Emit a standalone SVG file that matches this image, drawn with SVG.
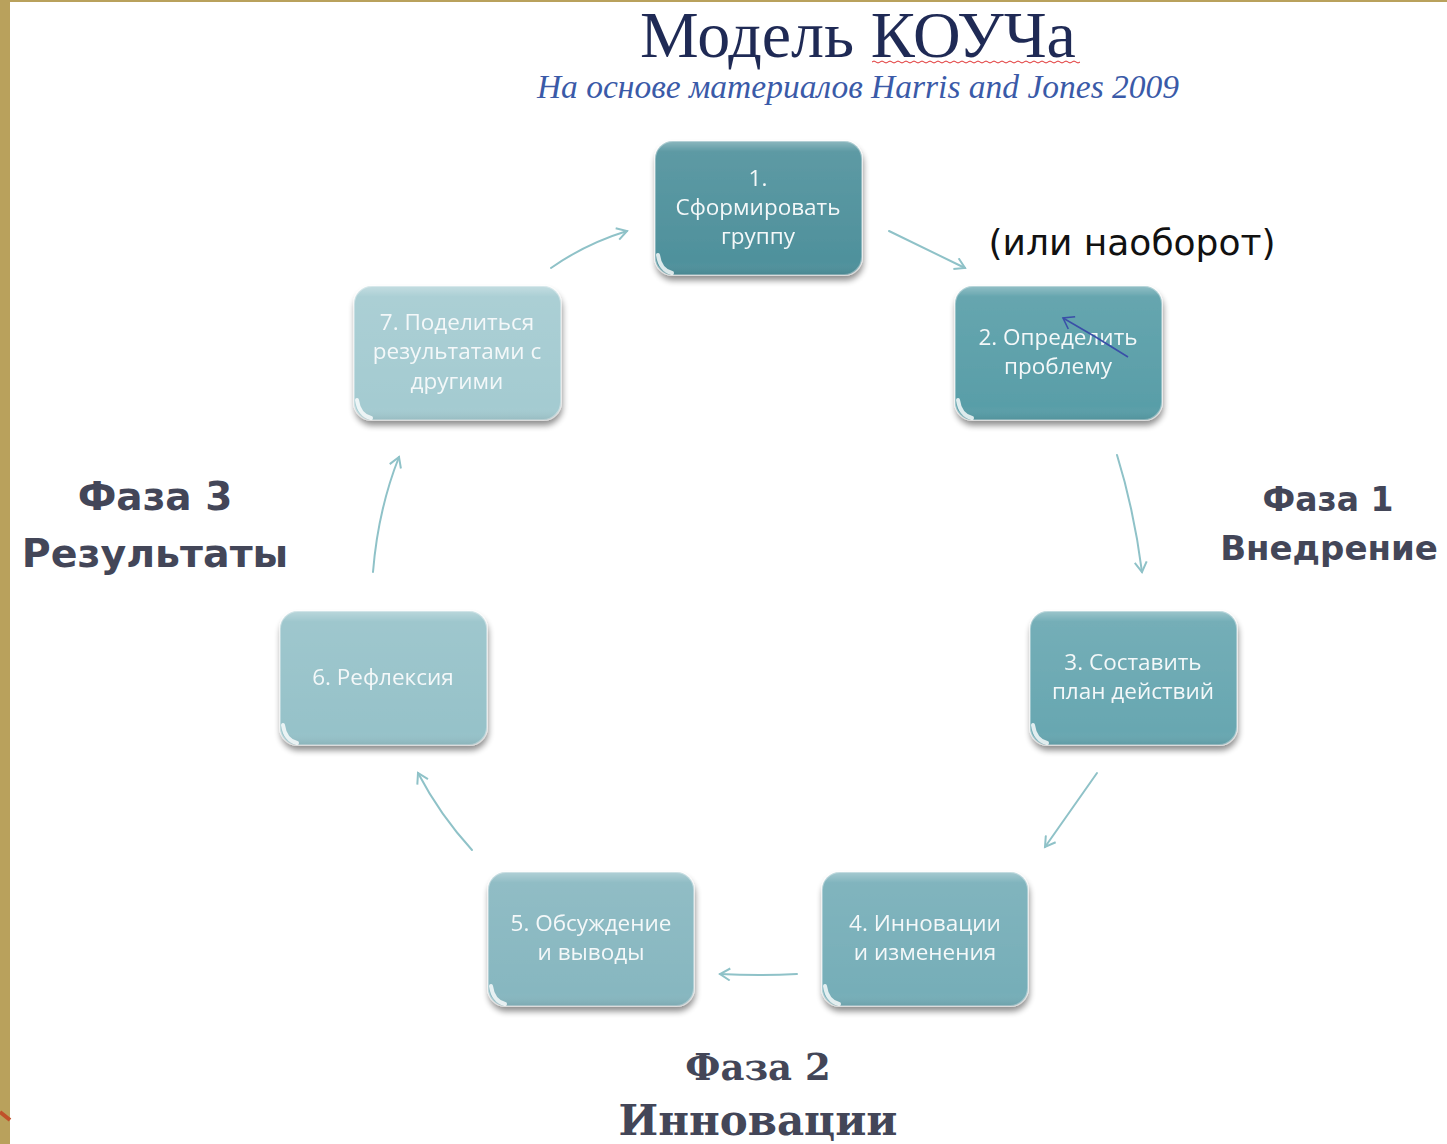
<svg xmlns="http://www.w3.org/2000/svg" width="1447" height="1144" viewBox="0 0 1447 1144">
<defs>
<style>
.box{stroke:#ffffff;stroke-opacity:0.35;stroke-width:2}
.hl{fill:none;stroke:#ffffff;stroke-opacity:0.8;stroke-width:4;stroke-linecap:round}
.lbl{font-family:"Open Sans","Noto Sans",sans-serif;font-size:22.5px;fill:#f4f8f9;text-anchor:middle}
.con{fill:none;stroke:#8fc2c8;stroke-width:2;stroke-linecap:round}
.phase{font-family:"DejaVu Sans","Noto Sans",sans-serif;font-weight:bold;fill:#434658;text-anchor:middle}
</style>
<filter id="sh" x="-20%" y="-20%" width="140%" height="150%">
<feGaussianBlur in="SourceAlpha" stdDeviation="3"/>
<feOffset dx="1" dy="5" result="b"/>
<feComponentTransfer><feFuncA type="linear" slope="0.45"/></feComponentTransfer>
<feMerge><feMergeNode/><feMergeNode in="SourceGraphic"/></feMerge>
</filter>
<linearGradient id="gl" x1="0" y1="0" x2="0" y2="1">
<stop offset="0" stop-color="#ffffff" stop-opacity="0.35"/>
<stop offset="0.08" stop-color="#ffffff" stop-opacity="0.08"/>
<stop offset="0.9" stop-color="#ffffff" stop-opacity="0"/>
<stop offset="1" stop-color="#000000" stop-opacity="0.08"/>
</linearGradient>
<marker id="ah" markerWidth="14" markerHeight="14" refX="11" refY="7" orient="auto" markerUnits="userSpaceOnUse">
<path d="M1,1 L11,7 L1,13" fill="none" stroke="#8fc2c8" stroke-width="2"/>
</marker>
<marker id="bh" markerWidth="16" markerHeight="16" refX="12" refY="8" orient="auto" markerUnits="userSpaceOnUse">
<path d="M2,1 L12,8 L2,15" fill="none" stroke="#3a4fa8" stroke-width="1.6"/>
</marker>
</defs>
<rect width="1447" height="1144" fill="#ffffff"/>
<rect x="0" y="0" width="10" height="1144" fill="#b9a15c"/>
<rect x="0" y="0" width="1447" height="2" fill="#b9a15c"/>
<path d="M0,1112 L10,1120" stroke="#c0502a" stroke-width="4"/>

<g id="title">
<text x="858" y="57" font-family="Liberation Serif,serif" font-size="66" fill="#1f2a55" text-anchor="middle">Модель КОУЧа</text>
<path d="M872,62 q2,-2 4,0 t4,0 t4,0 t4,0 t4,0 t4,0 t4,0 t4,0 t4,0 t4,0 t4,0 t4,0 t4,0 t4,0 t4,0 t4,0 t4,0 t4,0 t4,0 t4,0 t4,0 t4,0 t4,0 t4,0 t4,0 t4,0 t4,0 t4,0 t4,0 t4,0 t4,0 t4,0 t4,0 t4,0 t4,0 t4,0 t4,0 t4,0 t4,0 t4,0 t4,0 t4,0 t4,0 t4,0 t4,0 t4,0 t4,0 t4,0 t4,0 t4,0 t4,0 t4,0" fill="none" stroke="#e03030" stroke-width="1"/>
<text x="858" y="98" font-family="Liberation Serif,serif" font-style="italic" font-size="33.5" fill="#3a5aa8" text-anchor="middle">На основе материалов Harris and Jones 2009</text>
</g>

<g id="connectors">
<path class="con" d="M889,231 L965,268" marker-end="url(#ah)"/>
<path class="con" d="M1117,455 Q1134,510 1142,572" marker-end="url(#ah)"/>
<path class="con" d="M1097,773 L1045,847" marker-end="url(#ah)"/>
<path class="con" d="M797,974 Q760,976 720,974" marker-end="url(#ah)"/>
<path class="con" d="M472,850 Q440,815 418,773" marker-end="url(#ah)"/>
<path class="con" d="M373,572 Q378,510 399,457" marker-end="url(#ah)"/>
<path class="con" d="M551,268 Q585,244 627,231" marker-end="url(#ah)"/>
</g>

<g id="n1" filter="url(#sh)">
<rect class="box" x="655" y="141" width="207" height="134" rx="18" fill="#4f919c"/>
<rect x="655" y="141" width="207" height="134" rx="18" fill="url(#gl)"/>
<path class="hl" d="M658,255 Q660,270 672,273"/>
<text class="lbl" x="758" y="186">1.</text>
<text class="lbl" x="758" y="215">Сформировать</text>
<text class="lbl" x="758" y="244">группу</text>
</g>
<g id="n2" filter="url(#sh)">
<rect class="box" x="955" y="286" width="207" height="134" rx="18" fill="#599ea8"/>
<rect x="955" y="286" width="207" height="134" rx="18" fill="url(#gl)"/>
<path class="hl" d="M958,400 Q960,415 972,418"/>
<text class="lbl" x="1058" y="345">2. Определить</text>
<text class="lbl" x="1058" y="374">проблему</text>
</g>
<path id="blue-arrow" d="M1128,357 Q1095,336 1063,318" fill="none" stroke="#3a4fa8" stroke-width="1.6" marker-end="url(#bh)"/>
<g id="n3" filter="url(#sh)">
<rect class="box" x="1030" y="611" width="207" height="134" rx="18" fill="#68a7b1"/>
<rect x="1030" y="611" width="207" height="134" rx="18" fill="url(#gl)"/>
<path class="hl" d="M1033,725 Q1035,740 1047,743"/>
<text class="lbl" x="1133" y="670">3. Составить</text>
<text class="lbl" x="1133" y="699">план действий</text>
</g>
<g id="n4" filter="url(#sh)">
<rect class="box" x="822" y="872" width="206" height="134" rx="18" fill="#76aeb8"/>
<rect x="822" y="872" width="206" height="134" rx="18" fill="url(#gl)"/>
<path class="hl" d="M825,986 Q827,1001 839,1004"/>
<text class="lbl" x="925" y="931">4.  Инновации</text>
<text class="lbl" x="925" y="960">и изменения</text>
</g>
<g id="n5" filter="url(#sh)">
<rect class="box" x="488" y="872" width="206" height="134" rx="18" fill="#87b7c0"/>
<rect x="488" y="872" width="206" height="134" rx="18" fill="url(#gl)"/>
<path class="hl" d="M491,986 Q493,1001 505,1004"/>
<text class="lbl" x="591" y="931">5. Обсуждение</text>
<text class="lbl" x="591" y="960">и выводы</text>
</g>
<g id="n6" filter="url(#sh)">
<rect class="box" x="280" y="611" width="207" height="134" rx="18" fill="#96c2c9"/>
<rect x="280" y="611" width="207" height="134" rx="18" fill="url(#gl)"/>
<path class="hl" d="M283,725 Q285,740 297,743"/>
<text class="lbl" x="383" y="685">6. Рефлексия</text>
</g>
<g id="n7" filter="url(#sh)">
<rect class="box" x="354" y="286" width="207" height="134" rx="18" fill="#a4cbd1"/>
<rect x="354" y="286" width="207" height="134" rx="18" fill="url(#gl)"/>
<path class="hl" d="M357,400 Q359,415 371,418"/>
<text class="lbl" x="457" y="330">7. Поделиться</text>
<text class="lbl" x="457" y="359">результатами с</text>
<text class="lbl" x="457" y="389">другими</text>
</g>

<text id="note" x="1132" y="255" font-family="DejaVu Sans,sans-serif" font-size="36" fill="#111111" text-anchor="middle">(или наоборот)</text>

<g id="phase3">
<text class="phase" x="155" y="510" font-size="39">Фаза 3</text>
<text class="phase" x="155" y="567" font-size="39.5">Результаты</text>
</g>
<g id="phase1">
<text class="phase" x="1328" y="511" font-size="33">Фаза 1</text>
<text class="phase" x="1329" y="560" font-size="34">Внедрение</text>
</g>
<g id="phase2">
<text x="758" y="1080" font-family="DejaVu Serif,serif" font-weight="bold" font-size="37" fill="#434658" text-anchor="middle">Фаза 2</text>
<text x="758" y="1135" font-family="DejaVu Serif,serif" font-weight="bold" font-size="42" fill="#434658" text-anchor="middle">Инновации</text>
</g>
</svg>
